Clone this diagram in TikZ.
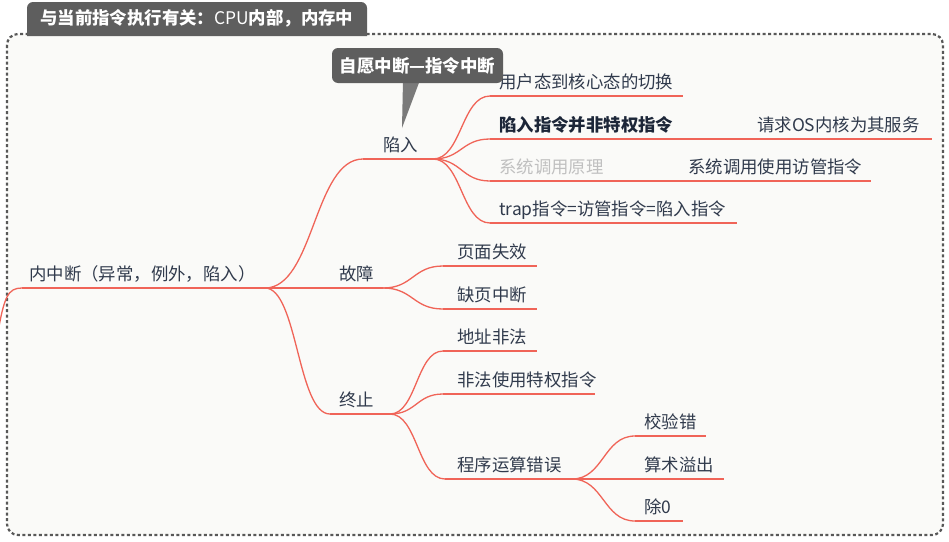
\documentclass[tikz,border=0pt]{standalone}
\usepackage{fontspec}
\setmainfont{Noto Sans CJK SC}
\usetikzlibrary{calc}
\definecolor{linkred}{RGB}{240,100,88}
\definecolor{txt}{RGB}{48,58,76}
\definecolor{boldtxt}{RGB}{28,38,56}
\definecolor{faint}{RGB}{192,192,192}
\definecolor{tabgray}{RGB}{94,94,94}
\definecolor{ptrgray}{RGB}{122,122,122}
\definecolor{framegray}{RGB}{88,88,88}
\definecolor{bgfill}{RGB}{250,250,248}
\tikzset{
  link/.style={draw=linkred,line width=1.3pt},
  topic/.style={anchor=base west,inner sep=0pt,text=txt,font=\fontsize{17.4}{17.4}\selectfont},
  boldtopic/.style={topic,text=boldtxt,font=\fontsize{17.4}{17.4}\selectfont\bfseries},
  fainttopic/.style={topic,text=faint},
  labeltext/.style={inner sep=0pt,text=white,font=\fontsize{17.4}{17.4}\selectfont\bfseries},
  framebox/.style={draw=framegray,line width=2.2pt,dash pattern=on 3pt off 2.5pt,fill=bgfill,rounded corners=11pt},
}
\newcommand\mmcurve[2]{\draw[link] let \p1=(#1),\p2=(#2) in (\p1) .. controls ({0.5*\x1+0.5*\x2},\y1) and ({0.5*\x1+0.5*\x2},\y2) .. (\p2);}
\newcommand\mmline[2]{\draw[link] (#1) -- (#2);}
\begin{document}
\begin{tikzpicture}[x=1pt,y=-1pt]
\useasboundingbox (0,0) rectangle (949,541);
\fill[white] (0,0) rectangle (949,541);
% frame
\draw[framebox] (7,34) rectangle (943,535);
% tab
\fill[tabgray] (27,36) {[rounded corners=6pt] -- (27,2) -- (367,2)} -- (367,36) -- cycle;
\node[labeltext,anchor=base west] (tabtxt) at (40,24.5) {与当前指令执行有关：{\mdseries CPU}内部，内存中};

% ---- coordinates
\coordinate (off) at (-3,338);
\coordinate (rS) at (22,288);
\coordinate (rE) at (265,288);
% trap branch
\coordinate (xS) at (363,159);
\coordinate (xE) at (433,159);
\coordinate (a1S) at (490,96);   \coordinate (a1E) at (683,96);
\coordinate (a2S) at (490,139);  \coordinate (a2E) at (700,139);
\coordinate (a2cE) at (932,139);
\coordinate (a3S) at (490,181);  \coordinate (a3E) at (625,181);
\coordinate (a3cE) at (871,181);
\coordinate (a4S) at (490,223);  \coordinate (a4E) at (737,223);
% fault branch
\coordinate (gE) at (383,288);
\coordinate (b1S) at (443,266);  \coordinate (b1E) at (537,266);
\coordinate (b2S) at (443,309);  \coordinate (b2E) at (537,309);
% abort branch
\coordinate (zS) at (330,414);
\coordinate (zE) at (390,414);
\coordinate (c1S) at (443,351);  \coordinate (c1E) at (537,351);
\coordinate (c2S) at (443,394);  \coordinate (c2E) at (595,394);
\coordinate (c3S) at (445,479);  \coordinate (c3E) at (572,479);
\coordinate (d1S) at (635,436);  \coordinate (d1E) at (706,436);
\coordinate (d2E) at (724,479);
\coordinate (d3S) at (635,521);  \coordinate (d3E) at (683,521);

% ---- connectors
\draw[link] (off) .. controls (4,296) and (8,288) .. (rS);
\mmline{rS}{rE}
\mmcurve{rE}{xS} \mmline{xS}{xE}
\mmcurve{xE}{a1S} \mmline{a1S}{a1E}
\mmcurve{xE}{a2S} \mmline{a2S}{a2E} \mmline{a2E}{a2cE}
\mmcurve{xE}{a3S} \mmline{a3S}{a3E} \mmline{a3E}{a3cE}
\mmcurve{xE}{a4S} \mmline{a4S}{a4E}
\mmline{rE}{gE}
\mmcurve{gE}{b1S} \mmline{b1S}{b1E}
\mmcurve{gE}{b2S} \mmline{b2S}{b2E}
\mmcurve{rE}{zS} \mmline{zS}{zE}
\mmcurve{zE}{c1S} \mmline{c1S}{c1E}
\mmcurve{zE}{c2S} \mmline{c2S}{c2E}
\mmcurve{zE}{c3S} \mmline{c3S}{c3E}
\mmcurve{c3E}{d1S} \mmline{d1S}{d1E}
\mmline{c3E}{d2E}
\mmcurve{c3E}{d3S} \mmline{d3S}{d3E}

% ---- texts
\node[topic] (root) at (29,280) {内中断（异常，例外，陷入）};
\node[topic] (trapT) at (383,151) {陷入};
\node[topic] (a1) at (499,88) {用户态到核心态的切换};
\node[boldtopic] (a2) at (499,131) {陷入指令并非特权指令};
\node[topic] (a2c) at (757,131) {请求OS内核为其服务};
\node[fainttopic] (a3) at (499,173) {系统调用原理};
\node[topic] (a3c) at (688,173) {系统调用使用访管指令};
\node[topic] (a4) at (499,215) {trap指令=访管指令=陷入指令};
\node[topic] (faultT) at (339,280) {故障};
\node[topic] (b1) at (457,258) {页面失效};
\node[topic] (b2) at (457,301) {缺页中断};
\node[topic] (abortT) at (339,406) {终止};
\node[topic] (c1) at (457,343) {地址非法};
\node[topic] (c2) at (457,386) {非法使用特权指令};
\node[topic] (c3) at (457,471) {程序运算错误};
\node[topic] (d1) at (644,428) {校验错};
\node[topic] (d2) at (644,471) {算术溢出};
\node[topic] (d3) at (644,513) {除0};

% ---- callout
\fill[ptrgray] (403,80) -- (420,80) -- (402,128) -- cycle;
\node[labeltext,fill=tabgray,rounded corners=6pt,minimum width=171pt,minimum height=35pt] (callout) at (417.5,65.5) {自愿中断—指令中断};
\end{tikzpicture}
\end{document}
